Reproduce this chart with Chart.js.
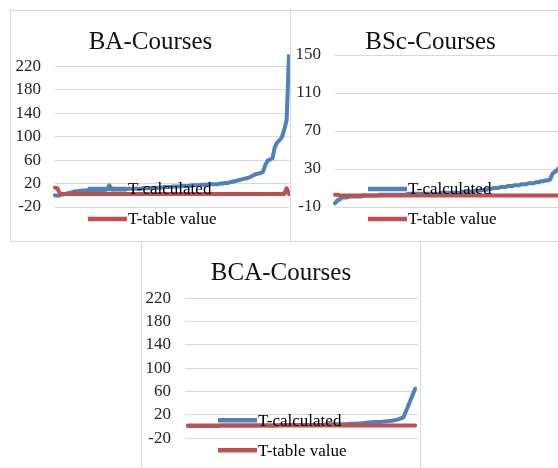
<!DOCTYPE html>
<html>
<head>
<meta charset="utf-8">
<script src="https://cdn.jsdelivr.net/npm/chart.js@4/dist/chart.umd.min.js"></script>
<style>
  html, body { margin: 0; padding: 0; background: #fff; overflow: hidden; width: 558px; height: 468px; }
  .box { position: absolute; border: 1px solid #d9d9d9; background: #fff; }
  .box canvas { position: absolute; left: 0; top: 0; }
</style>
</head>
<body>
<div class="box" id="boxBA" style="left:10px; top:10px; width:279px; height:230px;"><canvas id="chartBA" width="279" height="230"></canvas></div>
<div class="box" id="boxBSc" style="left:290px; top:10px; width:279px; height:230px;"><canvas id="chartBSc" width="279" height="230"></canvas></div>
<div class="box" id="boxBCA" style="left:141px; top:241px; width:278px; height:230px;"><canvas id="chartBCA" width="278" height="230"></canvas></div>
<script>
// ---- BA courses ----
const baCalculated = [
  0, -1, 0, 1, 2, 3, 4, 5, 6, 7,
  7, 8, 8, 8, 9, 9, 9, 9, 9, 9,
  9, 9, 10, 17, 10, 10, 10, 10, 10, 10,
  10, 11, 11, 11, 11, 11, 11, 12, 12, 12,
  12, 12, 13, 13, 13, 13, 14, 14, 14, 14,
  15, 15, 15, 15, 16, 16, 16, 16, 17, 17,
  17, 17, 18, 18, 18, 18, 19, 19, 19, 19,
  20, 20, 21, 21, 22, 23, 24, 25, 26, 27,
  28, 29, 30, 32, 34, 36, 37, 38, 40, 52,
  59, 61, 63, 82, 90, 94, 99, 112, 128, 240
];
const baTable = [
  13, 12, 3, 2, 2, 2, 2, 2, 2, 2,
  2, 2, 2, 2, 2, 2, 2, 2, 2, 2,
  2, 2, 2, 2, 2, 2, 2, 2, 2, 2,
  2, 2, 2, 2, 2, 2, 2, 2, 2, 2,
  2, 2, 2, 2, 2, 2, 2, 2, 2, 2,
  2, 2, 2, 2, 2, 2, 2, 2, 2, 2,
  2, 2, 2, 2, 2, 2, 2, 2, 2, 2,
  2, 2, 2, 2, 2, 2, 2, 2, 2, 2,
  2, 2, 2, 2, 2, 2, 2, 2, 2, 2,
  2, 2, 2, 2, 2, 2, 2, 2, 12, 2
];
const baTicks = [-20, 20, 60, 100, 140, 180, 220];

// ---- BSc courses ----
const bscCalculated = [
  -6, -3, -2, 0, 0, 0, 1, 1, 1, 1,
  1, 1, 2, 2, 2, 2, 2, 2, 2, 3,
  3, 3, 3, 3, 3, 3, 3, 3, 3, 3,
  3, 4, 4, 4, 4, 4, 4, 4, 4, 4,
  4, 4, 4, 4, 4, 5, 5, 5, 5, 5,
  5, 5, 5, 5, 6, 6, 6, 6, 6, 7,
  7, 7, 8, 8, 8, 9, 9, 10, 10, 10,
  11, 11, 11, 12, 12, 12, 13, 13, 13, 14,
  14, 14, 15, 15, 15, 16, 16, 17, 17, 18,
  18, 19, 25, 27, 29, 32, 38, 48, 70, 140
];
const bscTable = [
  3, 3, 2, 2, 2, 2, 2, 2, 2, 2,
  2, 2, 2, 2, 2, 2, 2, 2, 2, 2,
  2, 2, 2, 2, 2, 2, 2, 2, 2, 2,
  2, 2, 2, 2, 2, 2, 2, 2, 2, 2,
  2, 2, 2, 2, 2, 2, 2, 2, 2, 2,
  2, 2, 2, 2, 2, 2, 2, 2, 2, 2,
  2, 2, 2, 2, 2, 2, 2, 2, 2, 2,
  2, 2, 2, 2, 2, 2, 2, 2, 2, 2,
  2, 2, 2, 2, 2, 2, 2, 2, 2, 2,
  2, 2, 2, 2, 2, 2, 2, 2, 2, 2
];
const bscTicks = [-10, 30, 70, 110, 150];

// ---- BCA courses ----
const bcaCalculated = [
  1, 1, 1, 1, 1, 1, 2, 2, 2, 2,
  2, 2, 2, 2, 2, 2, 3, 3, 3, 3,
  3, 3, 3, 3, 4, 4, 4, 4, 5, 5,
  6, 7, 8, 8, 9, 10, 12, 16, 40, 65
];
const bcaTable = [
  2, 2, 2, 2, 2, 2, 2, 2, 2, 2,
  2, 2, 2, 2, 2, 2, 2, 2, 2, 2,
  2, 2, 2, 2, 2, 2, 2, 2, 2, 2,
  2, 2, 2, 2, 2, 2, 2, 2, 2, 2
];
const bcaTicks = [-20, 20, 60, 100, 140, 180, 220];

const seriesNames = ['T-calculated', 'T-table value'];
const BLUE = '#4f81bd';
const RED = '#c0504d';
const SERIF = '"Liberation Serif", "Times New Roman", serif';

// Title and series key drawn over the plot, in the spreadsheet style
const overlayText = {
  id: 'overlayText',
  afterDraw(chart, args, opts) {
    const ctx = chart.ctx;
    const a = chart.chartArea;
    ctx.save();
    // title
    ctx.font = '25px ' + SERIF;
    ctx.fillStyle = '#111';
    ctx.textAlign = 'center';
    ctx.textBaseline = 'alphabetic';
    ctx.fillText(opts.title, chart.width / 2, 37.5);
    // key
    const rows = [a.bottom - 18, a.bottom + 12];
    chart.data.datasets.forEach((ds, k) => {
      const y = rows[k];
      ctx.strokeStyle = ds.borderColor;
      ctx.lineWidth = 4.5;
      ctx.lineCap = 'butt';
      ctx.beginPath();
      ctx.moveTo(a.left + 33, y);
      ctx.lineTo(a.left + 72, y);
      ctx.stroke();
      ctx.font = '17px ' + SERIF;
      ctx.fillStyle = '#000';
      ctx.textAlign = 'left';
      ctx.textBaseline = 'middle';
      ctx.fillText(ds.label, a.left + 73, y + 1);
    });
    ctx.restore();
  }
};

function makeChart(id, title, calc, table, ticks, yMin, yMax, pad, axisWidth, offset) {
  const labels = calc.map((_, i) => i + 1);
  return new Chart(document.getElementById(id), {
    type: 'line',
    data: {
      labels,
      datasets: [
        { label: seriesNames[0], data: calc, borderColor: BLUE, order: 1 },
        { label: seriesNames[1], data: table, borderColor: RED, order: 0 }
      ]
    },
    options: {
      responsive: false,
      animation: false,
      devicePixelRatio: 1,
      layout: { padding: pad },
      elements: {
        point: { radius: 0 },
        line: { borderWidth: 4, tension: 0, borderJoinStyle: 'round', borderCapStyle: 'round' }
      },
      plugins: {
        legend: { display: false },
        title: { display: false },
        tooltip: { enabled: false },
        overlayText: { title }
      },
      scales: {
        x: { display: false, offset },
        y: {
          min: yMin,
          max: yMax,
          afterBuildTicks(scale) { scale.ticks = ticks.map(v => ({ value: v })); },
          afterFit(scale) { scale.width = axisWidth; },
          border: { display: false },
          grid: { color: '#d9d9d9', lineWidth: 1, drawTicks: false },
          ticks: {
            padding: 14,
            color: '#262626',
            font: { family: SERIF, size: 17 }
          }
        }
      }
    },
    plugins: [overlayText]
  });
}

makeChart('chartBA', 'BA-Courses', baCalculated, baTable, baTicks, -20, 240,
  { left: 0, right: 1, top: 43.5, bottom: 34 }, 44, false);
makeChart('chartBSc', 'BSc-Courses', bscCalculated, bscTable, bscTicks, -10, 150,
  { left: 0, right: 1, top: 44, bottom: 34 }, 44, false);
makeChart('chartBCA', 'BCA-Courses', bcaCalculated, bcaTable, bcaTicks, -20, 240,
  { left: 0, right: 2, top: 44.6, bottom: 33.7 }, 43, true);
</script>
</body>
</html>
